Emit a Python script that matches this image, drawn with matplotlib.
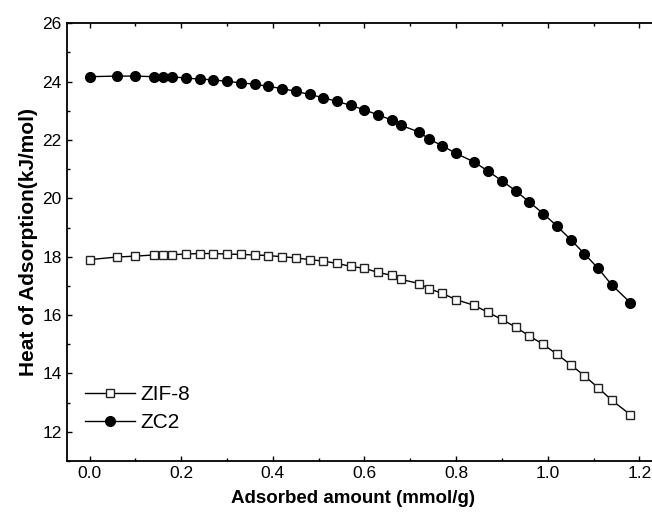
import numpy as np
from matplotlib import pyplot as plt
from matplotlib.ticker import MultipleLocator

### DATA ###
x_amount = [0, 0.06, 0.10, 0.14, 0.16, 0.18, 0.21, 0.24, 0.27, 0.30, 0.33, 0.36, 0.39,
            0.42, 0.45, 0.48, 0.51, 0.54, 0.57, 0.60, 0.63, 0.66, 0.68, 0.72, 0.74, 0.77,
            0.80, 0.84, 0.87, 0.90, 0.93, 0.96, 0.99, 1.02, 1.05, 1.08, 1.11, 1.14, 1.18]

q_zif8 = [17.90, 17.99, 18.02, 18.06, 18.06, 18.07, 18.09, 18.11, 18.11, 18.09, 18.08,
          18.06, 18.04, 18.00, 17.96, 17.90, 17.85, 17.77, 17.67, 17.60, 17.46, 17.36,
          17.22, 17.08, 16.91, 16.74, 16.53, 16.33, 16.09, 15.85, 15.59, 15.28, 15.00,
          14.66, 14.30, 13.92, 13.51, 13.08, 12.59]

q_zc2 = [24.17, 24.19, 24.19, 24.17, 24.17, 24.17, 24.12, 24.09, 24.06, 24.01, 23.96,
         23.91, 23.84, 23.76, 23.67, 23.56, 23.45, 23.32, 23.19, 23.03, 22.86, 22.68,
         22.50, 22.27, 22.04, 21.80, 21.54, 21.24, 20.93, 20.60, 20.26, 19.87, 19.48,
         19.05, 18.59, 18.10, 17.60, 17.03, 16.43]

labels = ['ZIF-8', 'ZC2']
x_ticks = [0.0, 0.2, 0.4, 0.6, 0.8, 1.0, 1.2]
y_ticks = [12, 14, 16, 18, 20, 22, 24, 26]

plt.rcParams['font.family'] = ['Liberation Sans', 'DejaVu Sans']

### FIGURE ###
fig = plt.figure(figsize=(6.52, 5.15), dpi=100)
# right spine sits outside the picture, like the cropped original
ax = fig.add_axes([0.1023, 0.1049, 0.95, 0.8499])

ax.plot(x_amount, q_zif8, '-', color='black', lw=1.0, marker='s', ms=5.6,
        mfc='white', mec='#222222', mew=1.0, label=labels[0])
ax.plot(x_amount, q_zc2, '-', color='black', lw=1.0, marker='o', ms=7.0,
        mfc='black', mec='black', label=labels[1])

ax.set_xlim(-0.05, 1.302)
ax.set_ylim(11, 26)
ax.set_xticks(x_ticks)
ax.set_yticks(y_ticks)
ax.xaxis.set_minor_locator(MultipleLocator(0.1))
ax.yaxis.set_minor_locator(MultipleLocator(1))
ax.tick_params(which='both', direction='in', top=True, right=True, labelsize=12.5, width=1.0)
ax.tick_params(which='major', length=3.5)
ax.tick_params(which='minor', length=2.5)
for s in ax.spines.values():
    s.set_linewidth(1.3)

ax.set_xlabel('Adsorbed amount (mmol/g)', fontsize=13.5, fontweight='bold')
ax.set_ylabel('Heat of Adsorption(kJ/mol)', fontsize=15, fontweight='bold')
ax.xaxis.set_label_coords(0.462, -0.066)
ax.yaxis.set_label_coords(-0.047, 0.5)

ax.legend(loc='lower left', bbox_to_anchor=(0.006, 0.032), frameon=False, fontsize=15,
          handlelength=2.4, handletextpad=0.25, labelspacing=0.45, borderaxespad=0.3)

fig.savefig('out.png', dpi=100)
